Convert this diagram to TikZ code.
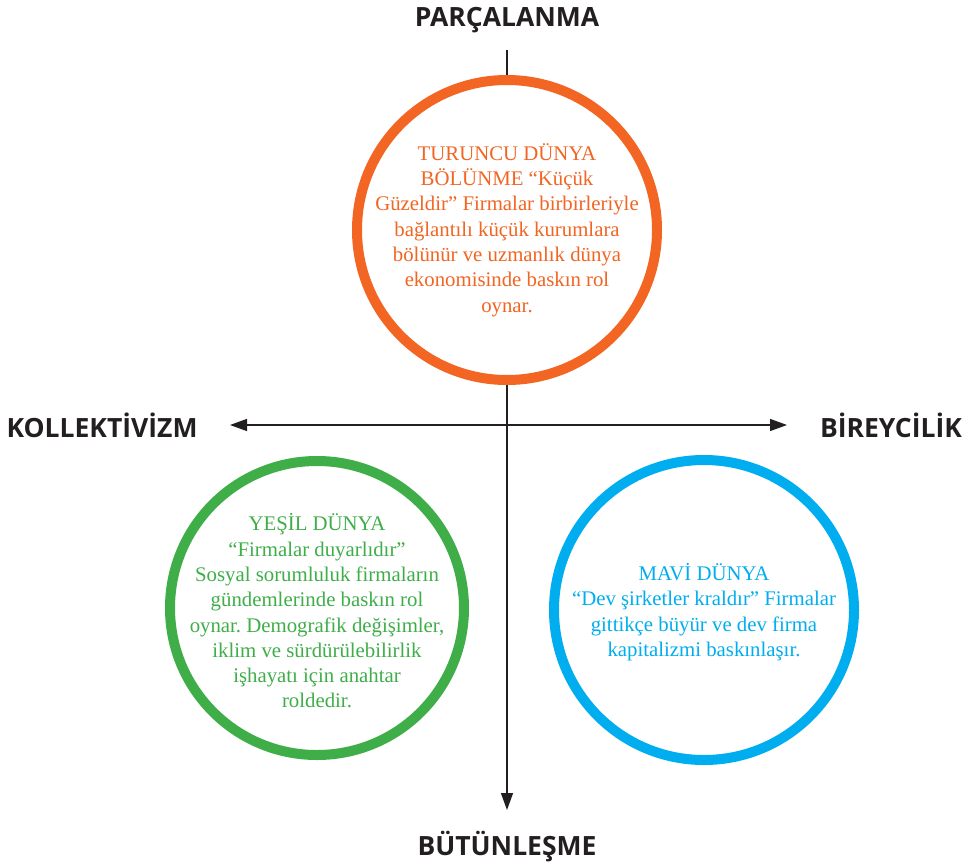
\documentclass[tikz,border=0pt]{standalone}
\usepackage{fontspec}
\setmainfont{Liberation Serif}
\newfontfamily\axisfont{Open Sans}
\usetikzlibrary{arrows.meta}
\definecolor{turuncu}{HTML}{F26522}
\definecolor{yesil}{HTML}{3FAE49}
\definecolor{mavi}{HTML}{00AEEF}
\definecolor{koyu}{HTML}{231F20}
\frenchspacing
\tikzset{
  eksen/.style={font=\axisfont\bfseries\fontsize{26.5}{30}\selectfont,text=koyu},
  dunya/.style={line width=10pt,draw=#1,fill=white},
  metin/.style={align=center,font=\fontsize{20.8}{25.3}\selectfont}
}

\begin{document}
\begin{tikzpicture}[x=1pt,y=-1pt]
    \useasboundingbox (0,0) rectangle (969,865);

    % eksen etiketleri
    \node[eksen] (parca) at (507,20) {PARÇALANMA};
    \node[eksen] (butun) at (507,847) {BÜTÜNLEŞME};
    \node[eksen] (kollek) at (102,425) {KOLLEKTİVİZM};
    \node[eksen] (birey) at (891,425) {BİREYCİLİK};

    % eksenler
    \coordinate (ust) at (507,50);
    \coordinate (alt) at (507,810);
    \coordinate (sol) at (230,425);
    \coordinate (sag) at (787,425);
    \draw[koyu,line width=1.4pt,-{Triangle[length=17pt,width=12pt]}] (ust)--(alt);
    \draw[koyu,line width=1.4pt,{Triangle[length=17pt,width=12pt]}-{Triangle[length=17pt,width=12pt]}] (sol)--(sag);

    % turuncu dunya
    \begin{scope}[shift={(507,230)}]
      \draw[dunya=turuncu] (0,0) circle (150);
      \node[metin,text=turuncu] (turuncu) at (0,0) {TURUNCU DÜNYA\\
        BÖLÜNME “Küçük\\
        Güzeldir” Firmalar birbirleriyle\\
        bağlantılı küçük kurumlara\\
        bölünür ve uzmanlık dünya\\
        ekonomisinde baskın rol\\
        oynar.};
    \end{scope}

    % yesil dunya
    \begin{scope}[shift={(317,608)}]
      \draw[dunya=yesil] (0,0) circle (147);
      \node[metin,text=yesil] (yesil) at (0,3) {YEŞİL DÜNYA\\
        “Firmalar duyarlıdır”\\
        Sosyal sorumluluk firmaların\\
        gündemlerinde baskın rol\\
        oynar. Demografik değişimler,\\
        iklim ve sürdürülebilirlik\\
        işhayatı için anahtar\\
        roldedir.};
    \end{scope}

    % mavi dunya
    \begin{scope}[shift={(704,610)}]
      \draw[dunya=mavi] (0,0) circle (150);
      \node[metin,text=mavi] (mavi) at (0,2) {MAVİ DÜNYA\\
        “Dev şirketler kraldır” Firmalar\\
        gittikçe büyür ve dev firma\\
        kapitalizmi baskınlaşır.};
    \end{scope}
  \end{tikzpicture}
\end{document}
